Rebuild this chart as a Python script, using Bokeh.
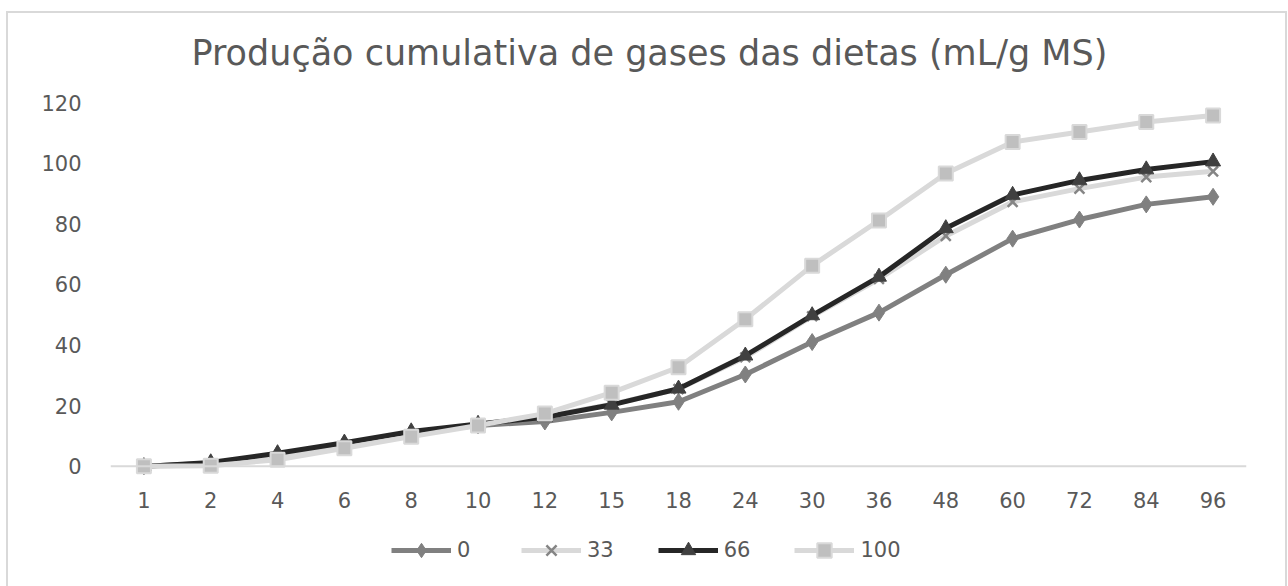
from bokeh.plotting import figure
from bokeh.models import Range1d, FactorRange, Span, Legend, Title, FixedTicker
from bokeh.layouts import column
from bokeh.embed import file_html
from bokeh.resources import INLINE

hours = ["1", "2", "4", "6", "8", "10", "12", "15", "18", "24", "30", "36", "48", "60", "72", "84", "96"]
s0 = [0, 1, 4, 7.5, 11, 13.5, 14.8, 17.8, 21.3, 30.3, 41, 50.7, 63.2, 75.1, 81.4, 86.4, 88.9]
s33 = [0, 0.5, 3, 6.5, 10.5, 14, 16.5, 20.5, 25.5, 36, 49.5, 61.8, 76, 87.2, 91.6, 95.4, 97.3]
s66 = [0, 1.3, 4.3, 7.8, 11.5, 14, 16.2, 20.3, 25.6, 36.5, 49.8, 62.5, 78.5, 89.5, 94.3, 97.9, 100.5]
s100 = [0, 0.2, 2.2, 6, 9.8, 13.5, 17.4, 24.3, 32.7, 48.5, 66.2, 81.1, 96.6, 107, 110.3, 113.6, 115.7]
y_ticks = [0, 20, 40, 60, 80, 100, 120]
series_names = ["0", "33", "66", "100"]
title_text = "Produção cumulativa de gases das dietas (mL/g MS)"

FONT = "DejaVu Sans"
TXT = "#595959"

styles_list = [
    dict(line_color="#808080", marker="diamond", size=17, fill_color="#808080", mline="#808080", mw=1),
    dict(line_color="#d9d9d9", marker="x", size=14, fill_color="#858585", mline="#858585", mw=2.5),
    dict(line_color="#262626", marker="triangle", size=15, fill_color="#404040", mline="#404040", mw=1),
    dict(line_color="#d9d9d9", marker="square", size=14, fill_color="#bfbfbf", mline="#d9d9d9", mw=2),
]
data = [s0, s33, s66, s100]

p = figure(width=1288, height=520, x_range=FactorRange(*hours), y_range=Range1d(-4, 120),
           output_backend="svg", toolbar_location=None,
           min_border_left=110, min_border_right=42, min_border_top=102, min_border_bottom=42)
p.border_fill_color = None
p.background_fill_color = None
p.outline_line_color = None
p.xgrid.grid_line_color = None
p.ygrid.grid_line_color = None

p.title = Title(text=title_text, align="left", text_font=FONT, text_font_size="35px",
                text_color=TXT, text_font_style="normal", standoff=59, offset=81)

p.add_layout(Span(location=0, dimension="width", line_color="#d9d9d9", line_width=2))

p.yaxis.ticker = FixedTicker(ticks=y_ticks)
p.yaxis.axis_line_color = None
p.yaxis.major_tick_line_color = None
p.yaxis.minor_tick_line_color = None
p.yaxis.major_label_standoff = 23
p.yaxis.major_label_text_font = FONT
p.yaxis.major_label_text_font_size = "21px"
p.yaxis.major_label_text_color = TXT

p.xaxis.axis_line_color = None
p.xaxis.major_tick_line_color = None
p.xaxis.minor_tick_line_color = None
p.xaxis.major_label_standoff = 7
p.xaxis.major_label_text_font = FONT
p.xaxis.major_label_text_font_size = "21px"
p.xaxis.major_label_text_color = TXT

for vals, st in zip(data, styles_list):
    p.line(hours, vals, line_color=st["line_color"], line_width=5)
    p.scatter(hours, vals, marker=st["marker"], size=st["size"], fill_color=st["fill_color"],
              line_color=st["mline"], line_width=st["mw"])

# legend strip: same series, drawn outside its visible y range so only the legend shows
q = figure(width=1288, height=66, x_range=FactorRange(*hours), y_range=Range1d(500, 501),
           output_backend="svg", toolbar_location=None,
           x_axis_location=None, y_axis_location=None,
           min_border_left=0, min_border_right=0, min_border_top=0, min_border_bottom=0)
q.grid.visible = False
q.outline_line_color = None
q.border_fill_color = None
q.background_fill_color = None
items = []
for name, vals, st in zip(series_names, data, styles_list):
    rl = q.line(hours, vals, line_color=st["line_color"], line_width=5)
    rm = q.scatter(hours, vals, marker=st["marker"], size=st["size"], fill_color=st["fill_color"],
                   line_color=st["mline"], line_width=st["mw"])
    items.append((name, [rl, rm]))
legend = Legend(items=items, orientation="horizontal", location=(281, 18),
                label_text_font=FONT, label_text_font_size="21px", label_text_color=TXT,
                glyph_width=60, glyph_height=36, label_standoff=6, spacing=44,
                border_line_color=None, background_fill_alpha=0, margin=0, padding=4)
q.add_layout(legend)

layout = column(p, q, spacing=0)
g = "linear-gradient(#d9d9d9,#d9d9d9)"
layout.styles = {
    "background": f"{g} 6px 11px/1281px 2px no-repeat, {g} 6px 11px/2px 600px no-repeat, "
                  f"{g} 1285px 11px/2px 600px no-repeat, #ffffff"
}

open("out.html", "w").write(file_html(layout, INLINE))
